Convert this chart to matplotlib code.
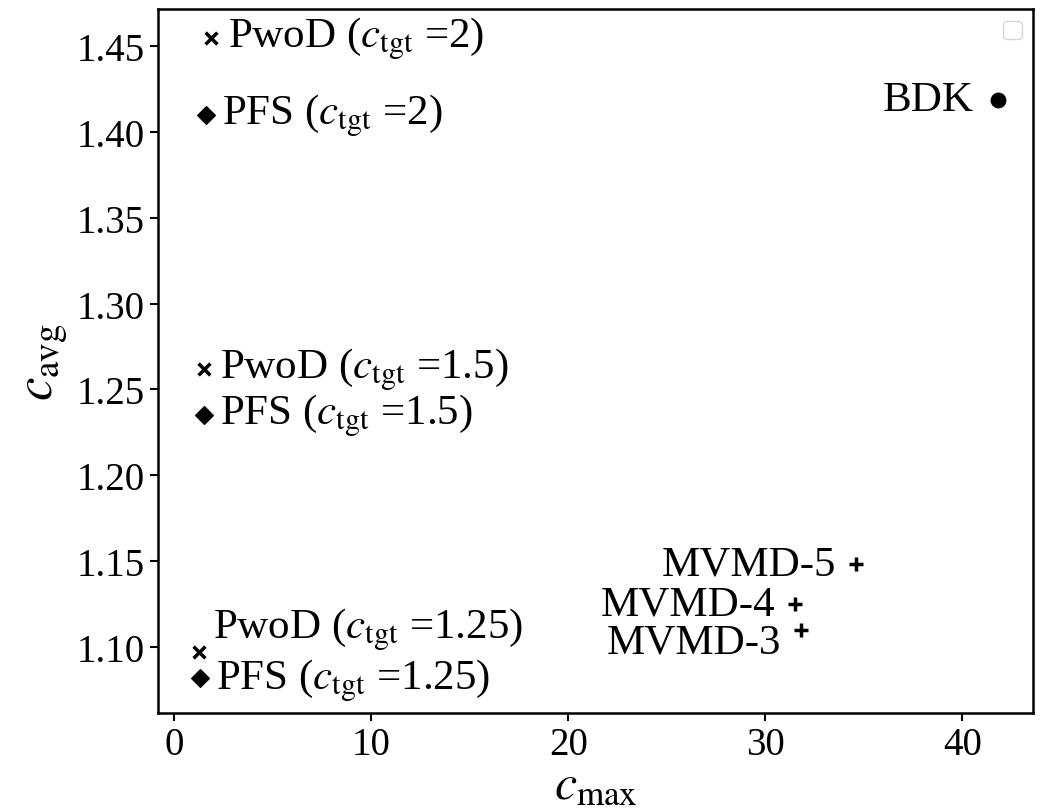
import matplotlib
matplotlib.use("Agg")
import matplotlib.pyplot as plt

plt.rcParams['font.family'] = ['Liberation Serif', 'DejaVu Serif']
plt.rcParams['mathtext.fontset'] = 'stix'

pwod_labels = ["PwoD ($c_{\\mathrm{tgt}}$ =2)", "PwoD ($c_{\\mathrm{tgt}}$ =1.5)", "PwoD ($c_{\\mathrm{tgt}}$ =1.25)"]
pwod_cmax = [1.9, 1.5, 1.25]
pwod_cavg = [1.455, 1.262, 1.097]

pfs_labels = ["PFS ($c_{\\mathrm{tgt}}$ =2)", "PFS ($c_{\\mathrm{tgt}}$ =1.5)", "PFS ($c_{\\mathrm{tgt}}$ =1.25)"]
pfs_cmax = [1.6, 1.5, 1.3]
pfs_cavg = [1.410, 1.235, 1.082]

bdk_label = ["BDK"]
bdk_cmax = [41.8]
bdk_cavg = [1.419]

mvmd_labels = ["MVMD-5", "MVMD-4", "MVMD-3"]
mvmd_cmax = [34.6, 31.5, 31.8]
mvmd_cavg = [1.148, 1.125, 1.110]

fig = plt.figure(figsize=(10.48, 8.12), dpi=100)
ax = fig.add_axes([0.151, 0.121, 0.835, 0.867])

ms = 90
ax.scatter(pwod_cmax, pwod_cavg, marker='x', color='black', s=ms*0.8, linewidths=2.5)
ax.scatter(pfs_cmax, pfs_cavg, marker='D', color='black', s=ms*0.9)
ax.scatter(bdk_cmax, bdk_cavg, marker='o', color='black', s=ms*1.2)
ax.scatter(mvmd_cmax, mvmd_cavg, marker='+', color='black', s=ms*1.1, linewidths=2.5)

fs = 31
pwod_off = [(12, 0), (12, 0), (10, 16)]
for lab, x, y, off in zip(pwod_labels, pwod_cmax, pwod_cavg, pwod_off):
    ax.annotate(lab, (x, y), xytext=off, textcoords='offset points',
                ha='left', va='center', fontsize=fs)
pfs_off = [(12, 0), (12, 0), (12, -2)]
for lab, x, y, off in zip(pfs_labels, pfs_cmax, pfs_cavg, pfs_off):
    ax.annotate(lab, (x, y), xytext=off, textcoords='offset points',
                ha='left', va='center', fontsize=fs)
for lab, x, y in zip(bdk_label, bdk_cmax, bdk_cavg):
    ax.annotate(lab, (x, y), xytext=(-17, 0), textcoords='offset points',
                ha='right', va='center', fontsize=fs)
mvmd_off = [(-14, 0), (-14, 0), (-14, -9)]
for lab, x, y, off in zip(mvmd_labels, mvmd_cmax, mvmd_cavg, mvmd_off):
    ax.annotate(lab, (x, y), xytext=off, textcoords='offset points',
                ha='right', va='center', fontsize=fs)

ax.set_xlim(-0.8, 43.6)
ax.set_ylim(1.0615, 1.472)
ax.set_xticks([0, 10, 20, 30, 40])
ax.set_yticks([1.10, 1.15, 1.20, 1.25, 1.30, 1.35, 1.40, 1.45])
ax.set_yticklabels(["1.10", "1.15", "1.20", "1.25", "1.30", "1.35", "1.40", "1.45"])
ax.tick_params(labelsize=28, width=1.5, length=6)
for sp in ax.spines.values():
    sp.set_linewidth(1.8)

ax.set_xlabel("$c_{\\mathrm{max}}$", fontsize=36, labelpad=-1)
ax.set_ylabel("$c_{\\mathrm{avg}}$", fontsize=38, labelpad=6)

ax.legend(loc='upper right', fontsize=17)

fig.savefig("out.png", dpi=100)
